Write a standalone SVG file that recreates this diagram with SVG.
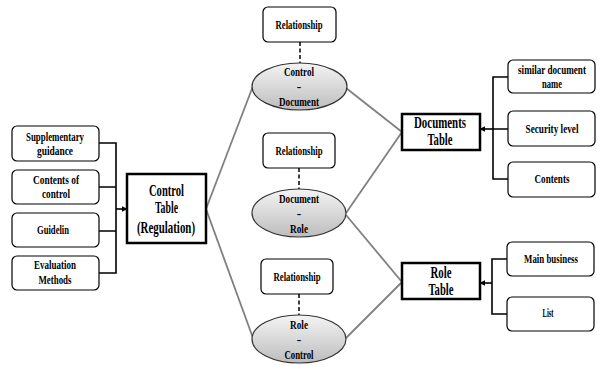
<svg xmlns="http://www.w3.org/2000/svg" width="597" height="365" viewBox="0 0 597 365">
  <style>
    text { font-family: "Liberation Serif", "Times New Roman", serif; font-weight: bold; fill: #000; text-anchor: middle; }
    .s { font-size: 13px; }
    .t { font-size: 16px; }
    .e { font-size: 13.5px; }
    .box { fill: #fff; stroke: #000; stroke-width: 1.2; }
    .tbl { fill: #fff; stroke: #000; stroke-width: 2.5; }
    .rel { fill: url(#shade); stroke: #333; stroke-width: 1.2; }
    .link { stroke: #808080; stroke-width: 1.8; fill: none; }
    .brk { stroke: #000; stroke-width: 1.6; fill: none; }
    .dash { stroke: #000; stroke-width: 1.5; stroke-dasharray: 4 2.5; fill: none; }
  </style>
  <defs>
    <linearGradient id="shade" x1="0" y1="0" x2="0" y2="1">
      <stop offset="0" stop-color="#f4f4f4"/>
      <stop offset="1" stop-color="#bdbdbd"/>
    </linearGradient>
    <marker id="arr" viewBox="0 0 10 10" refX="9" refY="5" markerWidth="6" markerHeight="6" orient="auto" markerUnits="userSpaceOnUse">
      <path d="M0,0 L10,5 L0,10 z" fill="#000"/>
    </marker>
  </defs>

  <!-- connectors -->
  <g id="connectors">
    <!-- table to relationship ellipses -->
    <line class="link" x1="206" y1="209" x2="253" y2="86"/>
    <line class="link" x1="206" y1="209" x2="253" y2="338"/>
    <line class="link" x1="346" y1="88" x2="402" y2="132"/>
    <line class="link" x1="346" y1="213" x2="402" y2="132"/>
    <line class="link" x1="346" y1="215" x2="402" y2="282"/>
    <line class="link" x1="346" y1="338" x2="402" y2="282"/>
    <!-- dashed links to relationship labels -->
    <line class="dash" x1="300" y1="42" x2="300" y2="63"/>
    <line class="dash" x1="299" y1="168" x2="299" y2="189"/>
    <line class="dash" x1="299" y1="294" x2="299" y2="315"/>
    <!-- attribute bracket: control table -->
    <path class="brk" d="M99,143 H116 V273 H99 M99,187 H116 M99,231 H116"/>
    <line class="brk" x1="116" y1="209" x2="127" y2="209" marker-end="url(#arr)"/>
    <!-- attribute bracket: documents table -->
    <path class="brk" d="M508,77 H493 V179 H508 M493,129 H508"/>
    <line class="brk" x1="493" y1="129" x2="480" y2="129" marker-end="url(#arr)"/>
    <!-- attribute bracket: role table -->
    <path class="brk" d="M507,259 H492 V314 H507"/>
    <line class="brk" x1="492" y1="283" x2="480" y2="283" marker-end="url(#arr)"/>
  </g>

  <!-- control table attributes -->
  <g id="supplementary">
    <rect class="box" x="12" y="126" width="87" height="35" rx="5"/>
    <text class="s" x="55" y="141" textLength="58" lengthAdjust="spacingAndGlyphs">Supplementary</text>
    <text class="s" x="55" y="155" textLength="36" lengthAdjust="spacingAndGlyphs">guidance</text>
  </g>
  <g id="contents-of-control">
    <rect class="box" x="12" y="170" width="87" height="34" rx="5"/>
    <text class="s" x="56" y="184" textLength="46" lengthAdjust="spacingAndGlyphs">Contents of</text>
    <text class="s" x="56" y="198" textLength="28" lengthAdjust="spacingAndGlyphs">control</text>
  </g>
  <g id="guidelin">
    <rect class="box" x="12" y="213" width="87" height="34" rx="5"/>
    <text class="s" x="53" y="234" textLength="32" lengthAdjust="spacingAndGlyphs">Guidelin</text>
  </g>
  <g id="evaluation">
    <rect class="box" x="12" y="256" width="87" height="34" rx="5"/>
    <text class="s" x="55" y="269" textLength="42" lengthAdjust="spacingAndGlyphs">Evaluation</text>
    <text class="s" x="55" y="284" textLength="33" lengthAdjust="spacingAndGlyphs">Methods</text>
  </g>

  <!-- control table -->
  <g id="control-table">
    <rect class="tbl" x="127" y="174" width="79" height="69"/>
    <text class="t" x="166.5" y="196" textLength="35" lengthAdjust="spacingAndGlyphs">Control</text>
    <text class="t" x="166.5" y="213" textLength="23" lengthAdjust="spacingAndGlyphs">Table</text>
    <text class="t" x="166" y="233" textLength="58" lengthAdjust="spacingAndGlyphs">(Regulation)</text>
  </g>

  <!-- relationship: control - document -->
  <g id="rel-control-document">
    <rect class="box" x="263" y="7" width="73" height="35" rx="5"/>
    <text class="s" x="299" y="29" textLength="47" lengthAdjust="spacingAndGlyphs">Relationship</text>
    <ellipse class="rel" cx="299.5" cy="86.5" rx="47.5" ry="23.5"/>
    <text class="e" x="299" y="76" textLength="30" lengthAdjust="spacingAndGlyphs">Control</text>
    <text class="e" x="299" y="91">-</text>
    <text class="e" x="299" y="106" textLength="40" lengthAdjust="spacingAndGlyphs">Document</text>
  </g>

  <!-- relationship: document - role -->
  <g id="rel-document-role">
    <rect class="box" x="263" y="133" width="72" height="35" rx="5"/>
    <text class="s" x="299" y="155" textLength="47" lengthAdjust="spacingAndGlyphs">Relationship</text>
    <ellipse class="rel" cx="299" cy="213" rx="47" ry="24"/>
    <text class="e" x="299" y="203" textLength="40" lengthAdjust="spacingAndGlyphs">Document</text>
    <text class="e" x="299" y="218">-</text>
    <text class="e" x="299" y="233" textLength="18" lengthAdjust="spacingAndGlyphs">Role</text>
  </g>

  <!-- relationship: role - control -->
  <g id="rel-role-control">
    <rect class="box" x="261" y="259" width="72" height="35" rx="5"/>
    <text class="s" x="297" y="281" textLength="47" lengthAdjust="spacingAndGlyphs">Relationship</text>
    <ellipse class="rel" cx="299" cy="339" rx="47" ry="24"/>
    <text class="e" x="299" y="329" textLength="18" lengthAdjust="spacingAndGlyphs">Role</text>
    <text class="e" x="299" y="344">-</text>
    <text class="e" x="299" y="359" textLength="29" lengthAdjust="spacingAndGlyphs">Control</text>
  </g>

  <!-- documents table -->
  <g id="documents-table">
    <rect class="tbl" x="402" y="114" width="78" height="36"/>
    <text class="t" x="440" y="128" textLength="52" lengthAdjust="spacingAndGlyphs">Documents</text>
    <text class="t" x="440" y="145" textLength="25" lengthAdjust="spacingAndGlyphs">Table</text>
  </g>
  <!-- right-hand attribute labels use a horizontal squeeze so the run stays inside the box -->
  <g id="similar-document-name">
    <rect class="box" x="508" y="60" width="87" height="33" rx="5"/>
    <text class="s" transform="translate(552,74) scale(0.7,1)" textLength="97" lengthAdjust="spacingAndGlyphs">similar document</text>
    <text class="s" transform="translate(552,88) scale(0.7,1)" textLength="28.6" lengthAdjust="spacingAndGlyphs">name</text>
  </g>
  <g id="security-level">
    <rect class="box" x="508" y="111" width="87" height="35" rx="5"/>
    <text class="s" transform="translate(552,133) scale(0.7,1)" textLength="75.7" lengthAdjust="spacingAndGlyphs">Security level</text>
  </g>
  <g id="contents">
    <rect class="box" x="508" y="162" width="87" height="35" rx="5"/>
    <text class="s" transform="translate(552,183) scale(0.7,1)" textLength="50" lengthAdjust="spacingAndGlyphs">Contents</text>
  </g>

  <!-- role table -->
  <g id="role-table">
    <rect class="tbl" x="402" y="263" width="78" height="36"/>
    <text class="t" x="441" y="278" textLength="21" lengthAdjust="spacingAndGlyphs">Role</text>
    <text class="t" x="441" y="295" textLength="25" lengthAdjust="spacingAndGlyphs">Table</text>
  </g>
  <g id="main-business">
    <rect class="box" x="507" y="242" width="87" height="34" rx="5"/>
    <text class="s" transform="translate(551,263) scale(0.7,1)" textLength="77" lengthAdjust="spacingAndGlyphs">Main business</text>
  </g>
  <g id="list">
    <rect class="box" x="507" y="297" width="87" height="34" rx="5"/>
    <text class="s" transform="translate(548,317) scale(0.7,1)" textLength="15.7" lengthAdjust="spacingAndGlyphs">List</text>
  </g>
</svg>
